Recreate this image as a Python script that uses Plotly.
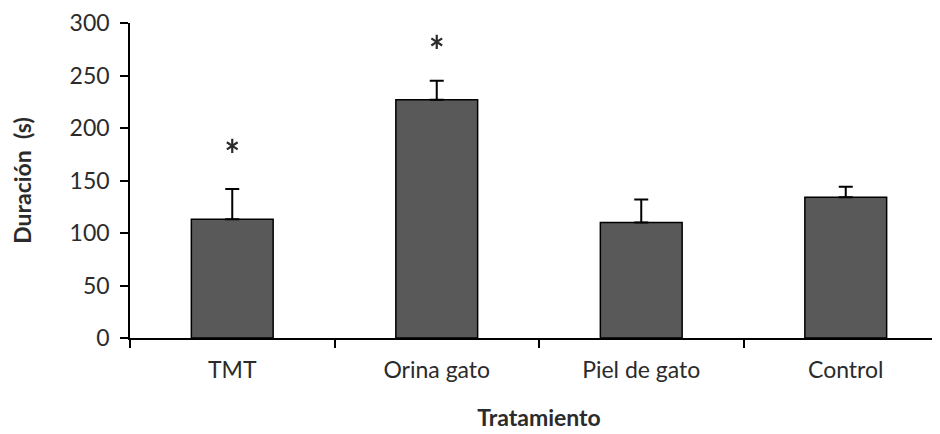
import plotly.graph_objects as go

categories = ["TMT", "Orina gato", "Piel de gato", "Control"]
means = [113, 227, 110, 134]
errors = [29, 18, 22, 10]
sig_categories = ["TMT", "Orina gato"]
sig_y = [183, 282]

y_ticks = [0, 50, 100, 150, 200, 250, 300]

font = "Lato, 'Open Sans', sans-serif"
txt = "#2b2b2b"

fig = go.Figure()
fig.add_trace(go.Bar(
    x=categories, y=means, width=0.4,
    marker=dict(color="#595959", line=dict(color="#000000", width=1.5)),
    error_y=dict(type="data", array=errors, symmetric=False, arrayminus=[0]*4,
                 color="#000000", thickness=2, width=7),
))
# six-armed asterisks for significance
for sym in ["y-up-open", "y-down-open"]:
    fig.add_trace(go.Scatter(
        x=sig_categories, y=sig_y, mode="markers",
        marker=dict(symbol=sym, size=9, color=txt, line=dict(color=txt, width=2.2)),
        hoverinfo="skip",
    ))

fig.update_layout(
    width=940, height=434,
    margin=dict(l=122, r=0, t=15, b=104),
    paper_bgcolor="white", plot_bgcolor="white",
    showlegend=False,
)
fig.update_xaxes(
    range=[-0.5, 3.5], showline=True, linecolor="#000000", linewidth=1.5,
    ticks="outside", ticklen=8, tickcolor="#000000", tickwidth=1.5,
    tickson="boundaries", ticklabelstandoff=11,
    tickfont=dict(size=23, family=font, color=txt),
    title=dict(text="<b>Tratamiento</b>", font=dict(size=23, family=font, color=txt), standoff=28),
)
fig.update_yaxes(
    range=[0, 300], tickvals=y_ticks, showline=True, linecolor="#000000", linewidth=1.5,
    ticks="outside", ticklen=8, tickcolor="#000000", tickwidth=1.5,
    showgrid=False, zeroline=False, ticklabelstandoff=6,
    tickfont=dict(size=23, family=font, color=txt),
    title=dict(text="<b>Duración  (s)</b>", font=dict(size=23, family=font, color=txt), standoff=38),
)

fig.write_html("out.html")
